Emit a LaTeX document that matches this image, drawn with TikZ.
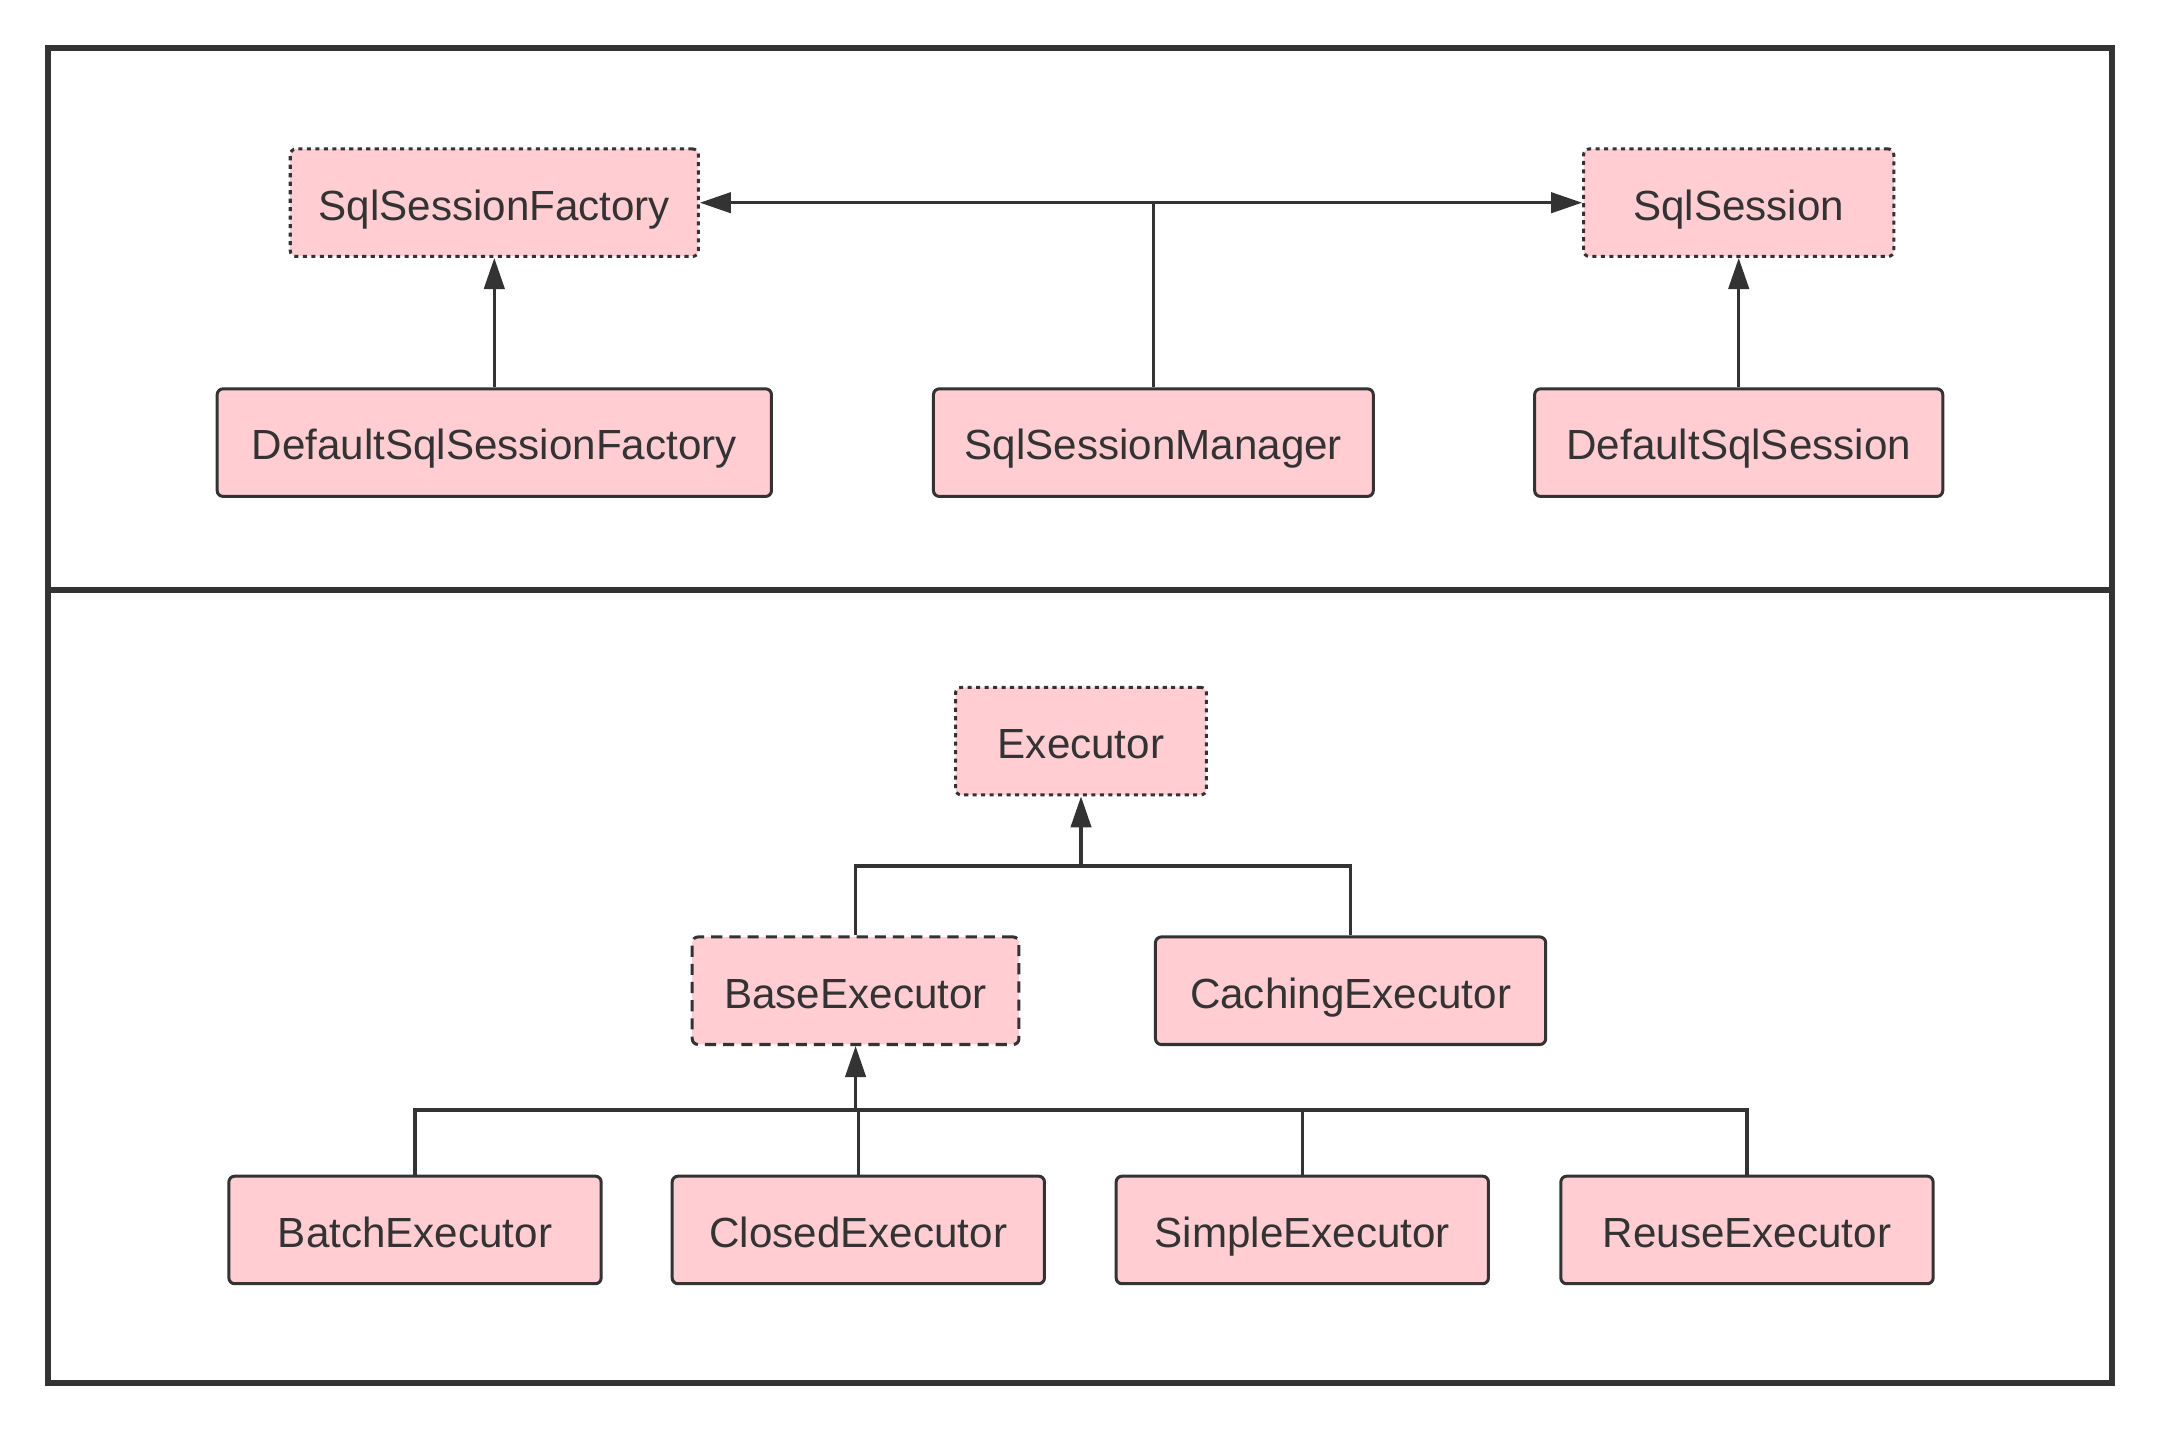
\documentclass[tikz,border=0pt]{standalone}
\usepackage{fontspec}
\setmainfont{Liberation Sans}
\usetikzlibrary{arrows.meta}
\definecolor{boxpink}{HTML}{FFCDD2}
\definecolor{ink}{HTML}{333333}
\begin{document}
\begin{tikzpicture}[
cls/.style={draw=ink, fill=boxpink, line width=0.62pt, rounded corners=1.2pt, minimum height=0.78cm, inner sep=0pt, text height=0.916em, text depth=0.2em, text=ink, font=\fontsize{8.7}{10}\selectfont},
iface/.style={cls, dash pattern=on 0.85pt off 0.9pt},
abstr/.style={cls, dash pattern=on 2.3pt off 1.45pt},
link/.style={draw=ink, line width=0.68pt},
inherit/.style={link, -{Triangle[length=6.4pt,width=4.2pt]}}
]
\useasboundingbox (0,0) rectangle (15.68,-10.386);

\draw [ink, line width=1.2pt] (0.35,-0.35) rectangle (15.32,-10.03);
\draw [ink, line width=1.2pt] (0.35,-4.28) -- (15.32,-4.28);

\node [iface, minimum width=2.96cm] (ssf) at (3.585,-1.47) {SqlSessionFactory};
\node [iface, minimum width=2.25cm] (ss) at (12.61,-1.47) {SqlSession};
\node [cls, minimum width=4.02cm] (dssf) at (3.585,-3.21) {DefaultSqlSessionFactory};
\node [cls, minimum width=3.19cm] (ssm) at (8.365,-3.21) {SqlSessionManager};
\node [cls, minimum width=2.96cm] (dss) at (12.61,-3.21) {DefaultSqlSession};
\draw [inherit] (dssf.north) -- (ssf.south);
\draw [inherit] (dss.north) -- (ss.south);
\draw [inherit] (ssm.north) |- (ssf.east);
\draw [inherit] (ssm.north) |- (ss.west);

\node [iface, minimum width=1.82cm] (exec) at (7.84,-5.375) {Executor};
\node [abstr, minimum width=2.37cm] (base) at (6.205,-7.185) {BaseExecutor};
\node [cls, minimum width=2.83cm] (cach) at (9.795,-7.185) {CachingExecutor};
\coordinate (bus1) at (7.84,-6.28);
\draw [link] (base.north) |- (bus1) -| (cach.north);
\draw [inherit] (bus1) -- (exec.south);

\node [cls, minimum width=2.70cm] (batch) at (3.01,-8.92) {BatchExecutor};
\node [cls, minimum width=2.70cm] (closed) at (6.225,-8.92) {ClosedExecutor};
\node [cls, minimum width=2.70cm] (simple) at (9.445,-8.92) {SimpleExecutor};
\node [cls, minimum width=2.70cm] (reuse) at (12.67,-8.92) {ReuseExecutor};
\coordinate (bus2) at (6.205,-8.05);
\draw [link] (batch.north) |- (bus2) -| (reuse.north);
\draw [link] (closed.north) -- (closed.north |- bus2);
\draw [link] (simple.north) -- (simple.north |- bus2);
\draw [inherit] (bus2) -- (base.south);
\end{tikzpicture}
\end{document}
